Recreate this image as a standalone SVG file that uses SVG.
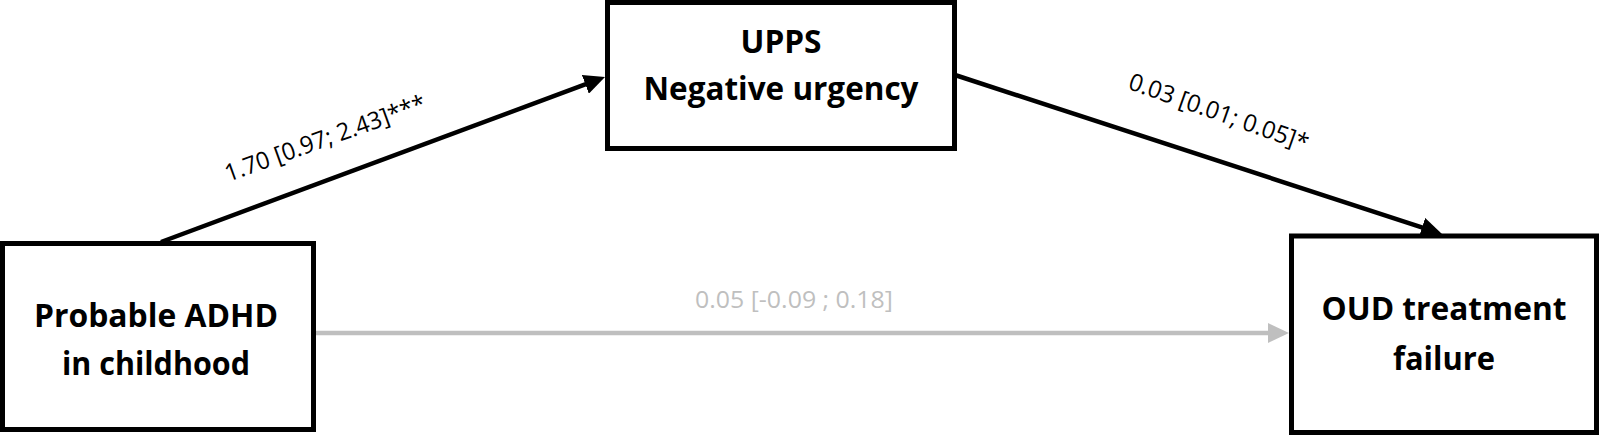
<svg xmlns="http://www.w3.org/2000/svg" width="1600" height="436" viewBox="0 0 1600 436">
  <style>
    .box { fill: #ffffff; stroke: #000000; stroke-width: 5; }
    .node-label { font-family: "Open Sans", "Noto Sans", "Liberation Sans", sans-serif; font-weight: bold; font-size: 33px; fill: #000000; text-anchor: middle; }
    .edge-label { font-family: "Open Sans", "Noto Sans", "Liberation Sans", sans-serif; font-size: 24px; fill: #000000; text-anchor: middle; }
    .edge-label.grey { fill: #BFBFBF; }
    .edge { fill: none; stroke: #000000; stroke-width: 4.5; }
    .edge.grey { stroke: #BFBFBF; }
  </style>
  <defs>
    <marker id="arrow-black" markerUnits="userSpaceOnUse" markerWidth="21" markerHeight="20" refX="7" refY="10" orient="auto" viewBox="0 0 21 20">
      <path d="M0,0 L21,10 L0,20 z" fill="#000000"/>
    </marker>
    <marker id="arrow-grey" markerUnits="userSpaceOnUse" markerWidth="21" markerHeight="20" refX="7" refY="10" orient="auto" viewBox="0 0 21 20">
      <path d="M0,0 L21,10 L0,20 z" fill="#BFBFBF"/>
    </marker>
  </defs>

  <g id="node-adhd">
    <rect class="box" x="2.5" y="243.5" width="311" height="186"/>
    <text class="node-label" x="156" y="327" textLength="244" lengthAdjust="spacingAndGlyphs">Probable ADHD</text>
    <text class="node-label" x="156" y="375" textLength="188" lengthAdjust="spacingAndGlyphs">in childhood</text>
  </g>

  <g id="node-upps">
    <rect class="box" x="607.5" y="2.5" width="347" height="146"/>
    <text class="node-label" x="781" y="53" textLength="81" lengthAdjust="spacingAndGlyphs">UPPS</text>
    <text class="node-label" x="781" y="100" textLength="275" lengthAdjust="spacingAndGlyphs">Negative urgency</text>
  </g>

  <g id="node-oud">
    <rect class="box" x="1291.5" y="236" width="305" height="196.5"/>
    <text class="node-label" x="1444" y="320" textLength="245" lengthAdjust="spacingAndGlyphs">OUD treatment</text>
    <text class="node-label" x="1444" y="370" textLength="102" lengthAdjust="spacingAndGlyphs">failure</text>
  </g>

  <g id="connectors">
    <path class="edge" d="M161,242 L591.9,81.9" marker-end="url(#arrow-black)"/>
    <path class="edge" d="M955,75 L1428.7,229.6" marker-end="url(#arrow-black)"/>
    <path class="edge grey" d="M316,333 L1275,333" marker-end="url(#arrow-grey)"/>
    <text class="edge-label" transform="translate(328,146) rotate(-19.8)" x="0" y="0" textLength="212" lengthAdjust="spacingAndGlyphs">1.70 [0.97; 2.43]***</text>
    <text class="edge-label" transform="translate(1216,120) rotate(19.5)" x="0" y="0" textLength="189" lengthAdjust="spacingAndGlyphs">0.03 [0.01; 0.05]*</text>
    <text class="edge-label grey" x="794" y="308" textLength="198" lengthAdjust="spacingAndGlyphs">0.05 [-0.09 ; 0.18]</text>
  </g>
</svg>
